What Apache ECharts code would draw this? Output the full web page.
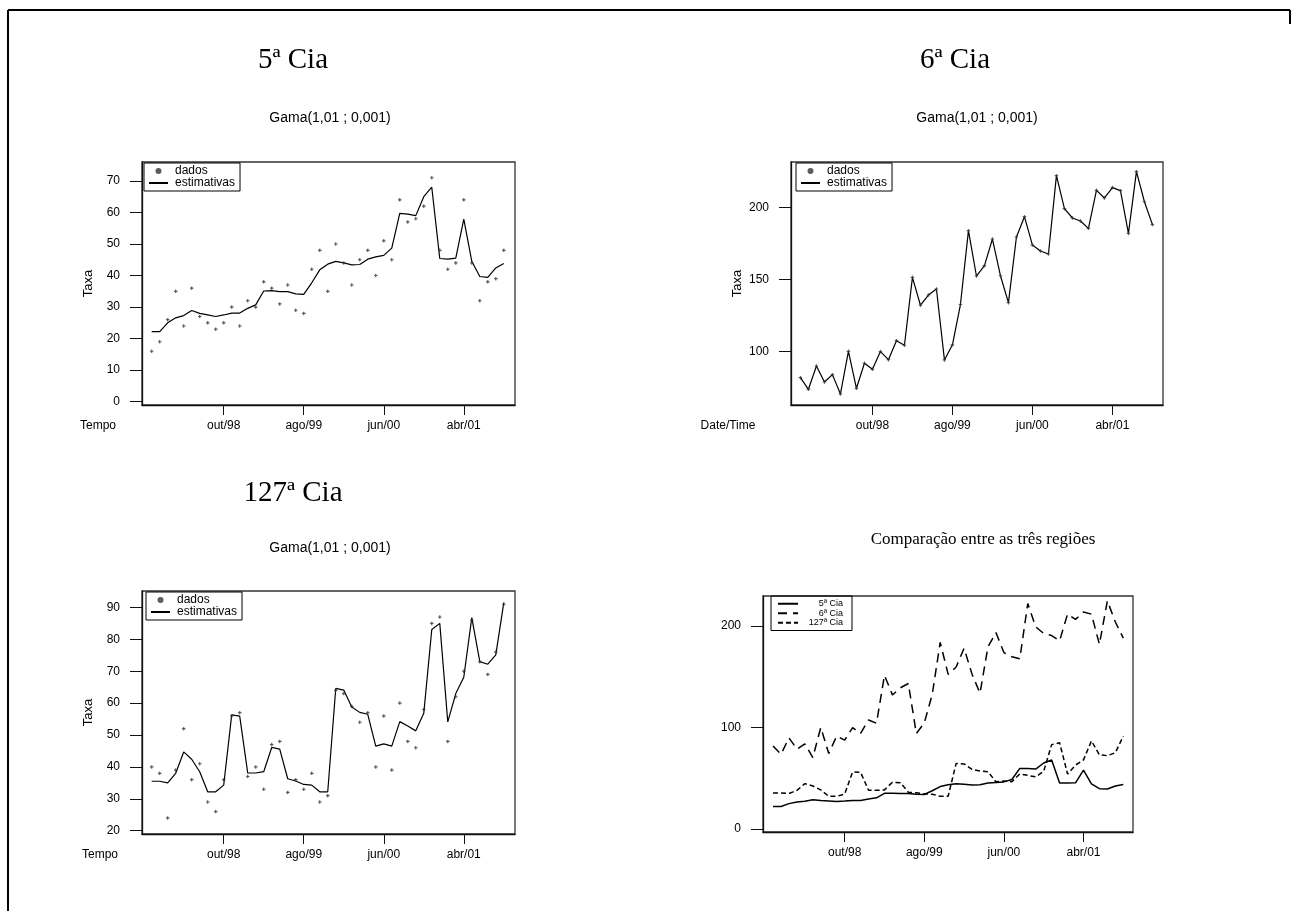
<!DOCTYPE html>
<html>
<head>
<meta charset="utf-8">
<title>Taxa por Cia</title>
<script src="https://cdn.jsdelivr.net/npm/echarts@6/dist/echarts.min.js"></script>
<style>
  html, body { margin: 0; padding: 0; background: #fff; }
  #chart { width: 1296px; height: 911px; }
</style>
</head>
<body>
<div id="chart"></div>
<script>
// Monthly series, jan/98 .. set/01
const months = [
  'jan/98','fev/98','mar/98','abr/98','mai/98','jun/98','jul/98','ago/98','set/98','out/98','nov/98','dez/98',
  'jan/99','fev/99','mar/99','abr/99','mai/99','jun/99','jul/99','ago/99','set/99','out/99','nov/99','dez/99',
  'jan/00','fev/00','mar/00','abr/00','mai/00','jun/00','jul/00','ago/00','set/00','out/00','nov/00','dez/00',
  'jan/01','fev/01','mar/01','abr/01','mai/01','jun/01','jul/01','ago/01','set/01'
];
const tickMonths = ['out/98', 'ago/99', 'jun/00', 'abr/01'];

// 5ª Cia: observed rates and fitted estimates
const cia5Dados = [16, 19, 26, 35, 24, 36, 27, 25, 23, 25, 30, 24, 32, 30, 38, 36, 31, 37, 29, 28,
  42, 48, 35, 50, 44, 37, 45, 48, 40, 51, 45, 64, 57, 58, 62, 71, 48, 42, 44, 64, 44, 32, 38, 39, 48];
const cia5Estim = [22.2, 22.2, 25.0, 26.6, 27.3, 28.9, 28.0, 27.5, 27.0, 27.5, 28.1, 28.1, 29.6, 30.7,
  35.1, 35.2, 34.9, 34.9, 34.2, 34.0, 37.7, 41.8, 43.6, 44.5, 44.0, 43.4, 43.5, 45.2, 45.9, 46.4,
  48.7, 59.7, 59.5, 59.0, 65.0, 68.0, 45.4, 45.2, 45.5, 57.9, 44.5, 39.7, 39.4, 42.4, 43.8];

// 6ª Cia: the fit follows the observations point by point
const cia6Dados = [81.7, 73.6, 89.8, 78.7, 83.8, 70.4, 100.0, 74.3, 91.7, 87.5, 99.8, 94.2, 107.4, 104.2,
  151.4, 132.0, 139.1, 143.3, 94.0, 104.5, 132.5, 183.8, 152.3, 159.5, 178.0, 152.5, 133.8, 179.4,
  193.5, 173.8, 169.7, 167.6, 222.0, 199.1, 192.6, 190.5, 185.4, 211.8, 206.5, 213.7, 211.6, 181.9,
  224.8, 203.9, 188.0];
const cia6Estim = cia6Dados;

// 127ª Cia: observed rates and fitted estimates
const cia127Dados = [40, 38, 24, 39, 52, 36, 41, 29, 26, 36, 56, 57, 37, 40, 33, 47, 48, 32, 36, 33,
  38, 29, 31, 64, 63, 59, 54, 57, 40, 56, 39, 60, 48, 46, 58, 85, 87, 48, 62, 70, 86, 73, 69, 76, 91];
const cia127Estim = [35.5, 35.5, 35.0, 38.0, 44.7, 42.4, 38.5, 32.2, 32.2, 34.3, 56.3, 55.9, 38.1, 38.1,
  38.5, 46.1, 45.6, 36.3, 35.6, 34.5, 34.3, 32.2, 32.2, 64.6, 64.1, 58.8, 57.1, 56.5, 46.5, 47.2,
  46.5, 54.2, 52.8, 51.3, 56.8, 83.1, 85.0, 54.1, 63.0, 68.1, 86.8, 73.0, 72.2, 75.1, 91.5];

// y-axis tick values per panel
const cia5Ticks = [0, 10, 20, 30, 40, 50, 60, 70];
const cia6Ticks = [100, 150, 200];
const cia127Ticks = [20, 30, 40, 50, 60, 70, 80, 90];
const compTicks = [0, 100, 200];

const SANS = '"Liberation Sans", Arial, sans-serif';
const SERIF = '"Liberation Serif", "Times New Roman", serif';
const INK = '#111';
// small plus-shaped marker for the observations
const PLUS = 'path://M1,0H2V1H3V2H2V3H1V2H0V1H1Z';

const pairs = arr => arr.map((v, i) => [i, v]);
const tickIdx = tickMonths.map(m => months.indexOf(m));

const grids = [
  { left: 142, top: 162, width: 373, height: 243 },
  { left: 791, top: 162, width: 372, height: 243 },
  { left: 142, top: 591, width: 373, height: 243 },
  { left: 763, top: 596, width: 370, height: 236 }
];
const xRanges = [[-1.21, 45.4], [-1.18, 45.32], [-1.21, 45.4], [-1.26, 45.22]];
const yRanges = [[-1.05, 76.0], [62.7, 231.5], [18.97, 95.15], [-2.96, 229.5]];
const yTicks = [cia5Ticks, cia6Ticks, cia127Ticks, compTicks];
const yNames = ['Taxa', 'Taxa', 'Taxa', ''];

const xAxes = grids.map((g, k) => ({
  type: 'value', gridIndex: k, min: xRanges[k][0], max: xRanges[k][1],
  splitLine: { show: false },
  axisLine: { show: true, onZero: false, lineStyle: { color: INK, width: 1.3 } },
  axisTick: { show: true, length: 10, customValues: tickIdx, lineStyle: { color: INK, width: 1 } },
  axisLabel: {
    show: true, customValues: tickIdx, margin: 15,
    formatter: v => months[Math.round(v)] || '',
    color: '#000', fontFamily: SANS, fontSize: 12
  }
}));

const yAxes = grids.map((g, k) => ({
  type: 'value', gridIndex: k, min: yRanges[k][0], max: yRanges[k][1],
  name: yNames[k], nameLocation: 'middle', nameGap: 47, nameRotate: 90,
  nameTextStyle: { color: '#000', fontFamily: SANS, fontSize: 13 },
  splitLine: { show: false },
  axisLine: { show: true, onZero: false, lineStyle: { color: INK, width: 1.3 } },
  axisTick: { show: true, length: 12, customValues: yTicks[k], lineStyle: { color: INK, width: 1 } },
  axisLabel: {
    show: true, customValues: yTicks[k], margin: 22,
    color: '#000', fontFamily: SANS, fontSize: 12
  }
}));

const dots = (k, data) => ({
  name: 'dados', type: 'scatter', xAxisIndex: k, yAxisIndex: k,
  data: pairs(data), symbol: PLUS, symbolSize: 3.5,
  itemStyle: { color: '#333' }, silent: true, z: 3
});
const fit = (k, data, name, dash, width) => ({
  name: name, type: 'line', xAxisIndex: k, yAxisIndex: k,
  data: pairs(data), symbol: 'none', silent: true,
  lineStyle: { color: '#000', width: width || 1.2, type: dash || 'solid' },
  itemStyle: { color: '#000' }, z: 2
});

// line-only legend entries: hide the marker that the line icon carries
const lineEntry = name => ({ name: name, itemStyle: { opacity: 0 } });

const fitLegend = (left, top) => ({
  orient: 'vertical', left: left, top: top,
  data: [
    { name: 'dados', icon: 'circle', itemStyle: { color: '#333' } },
    lineEntry('estimativas')
  ],
  itemWidth: 19, itemHeight: 6, itemGap: 0,
  padding: [2, 5, 2, 4], borderColor: '#000', borderWidth: 1,
  selectedMode: false,
  textStyle: { color: '#000', fontFamily: SANS, fontSize: 12, lineHeight: 12, padding: [0, 0, 0, 2] }
});

const titleText = (text, x, y, size, family) => ({
  text: text, left: x, top: y, textAlign: 'center', padding: 0,
  textStyle: { color: '#000', fontFamily: family, fontSize: size, fontWeight: 'normal' }
});

const option = {
  animation: false,
  backgroundColor: '#fff',
  title: [
    titleText('5ª Cia', 293, 46, 29, SERIF),
    titleText('Gama(1,01 ; 0,001)', 330, 111, 14, SANS),
    titleText('6ª Cia', 955, 46, 29, SERIF),
    titleText('Gama(1,01 ; 0,001)', 977, 111, 14, SANS),
    titleText('127ª Cia', 293, 479, 29, SERIF),
    titleText('Gama(1,01 ; 0,001)', 330, 541, 14, SANS),
    titleText('Comparação entre as três regiões', 983, 531, 17, SERIF)
  ],
  grid: grids.map(g => Object.assign({ show: true, borderColor: '#333', borderWidth: 1.3, backgroundColor: 'transparent' }, g)),
  xAxis: xAxes,
  yAxis: yAxes,
  legend: [
    fitLegend(144, 163),
    fitLegend(796, 163),
    fitLegend(146, 592),
    {
      orient: 'vertical', left: 771, top: 596,
      data: [lineEntry('5ª Cia'), lineEntry('6ª Cia'), lineEntry('127ª Cia')],
      itemWidth: 20, itemHeight: 6, itemGap: 0,
      padding: [3, 9, 3, 6], borderColor: '#000', borderWidth: 1,
      selectedMode: false,
      formatter: n => '{r|' + n + '}',
      textStyle: {
        color: '#000', fontFamily: SANS, fontSize: 9, lineHeight: 9.5,
        rich: { r: { width: 40, align: 'right', fontSize: 9, fontFamily: SANS } }
      }
    }
  ],
  series: [
    dots(0, cia5Dados),
    fit(0, cia5Estim, 'estimativas'),
    dots(1, cia6Dados),
    fit(1, cia6Estim, 'estimativas'),
    dots(2, cia127Dados),
    fit(2, cia127Estim, 'estimativas'),
    fit(3, cia5Estim, '5ª Cia', 'solid', 1.5),
    fit(3, cia6Dados, '6ª Cia', [9, 6], 1.5),
    fit(3, cia127Estim, '127ª Cia', [5, 3], 1.5)
  ],
  graphic: [
    // page frame
    { type: 'line', shape: { x1: 8, y1: 10, x2: 1290, y2: 10 }, style: { stroke: '#000', lineWidth: 2 }, silent: true },
    { type: 'line', shape: { x1: 8, y1: 10, x2: 8, y2: 911 }, style: { stroke: '#000', lineWidth: 2 }, silent: true },
    { type: 'line', shape: { x1: 1290, y1: 10, x2: 1290, y2: 24 }, style: { stroke: '#000', lineWidth: 2 }, silent: true },
    // time-axis captions
    { type: 'text', x: 98, y: 426, style: { text: 'Tempo', fill: '#000', font: '12px ' + SANS, align: 'center', verticalAlign: 'middle' }, silent: true },
    { type: 'text', x: 728, y: 426, style: { text: 'Date/Time', fill: '#000', font: '12px ' + SANS, align: 'center', verticalAlign: 'middle' }, silent: true },
    { type: 'text', x: 100, y: 855, style: { text: 'Tempo', fill: '#000', font: '12px ' + SANS, align: 'center', verticalAlign: 'middle' }, silent: true }
  ]
};

const chart = echarts.init(document.getElementById('chart'), null, { renderer: 'canvas' });
chart.setOption(option);
</script>
</body>
</html>
